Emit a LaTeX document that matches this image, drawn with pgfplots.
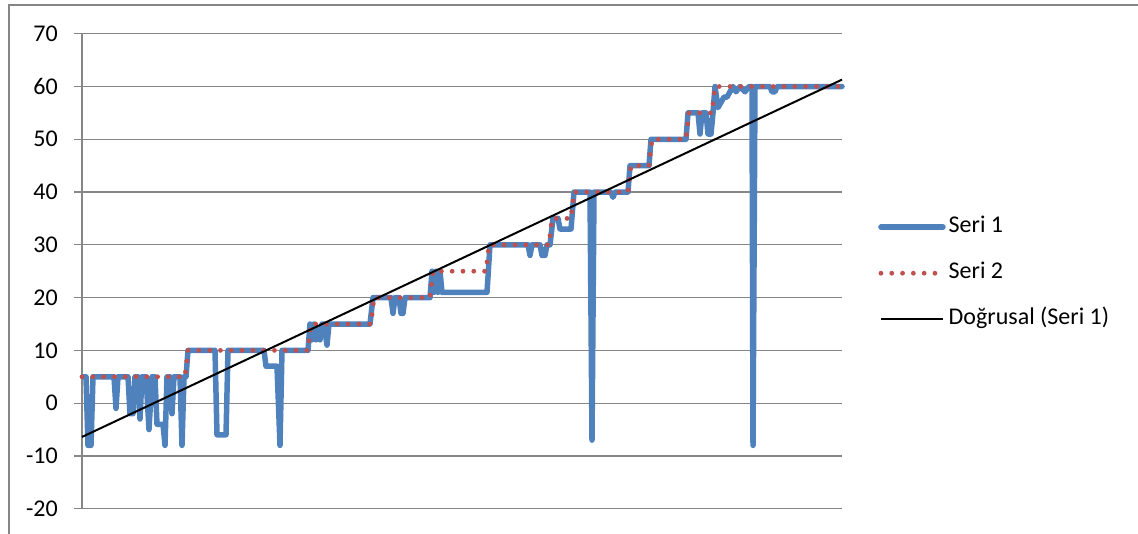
\documentclass[border=0pt]{standalone}
\usepackage{pgfplots}
\pgfplotsset{compat=1.18}
\usepackage{fontspec}
\setmainfont{Carlito}
\definecolor{serione}{RGB}{79,129,189}
\definecolor{seritwo}{RGB}{192,80,77}
\definecolor{gridgray}{RGB}{134,134,134}

% Seri 1: measured values (x = sample index)
\pgfplotstableread{
x y
1 5
4 5
6 -8
9 -8
11 5
32 5
34 -1
36 5
46 5
48 -2
51 -2
53 5
56 5
58 -3
60 5
64 5
67 -5
70 5
73 5
75 -4
81 -4
83 -8
85 5
88 5
90 -2
92 5
98 5
100 -8
102 5
104 5
106 10
133 10
135 -6
144 -6
146 10
182 10
184 7
195 7
198 -8
200 10
226 10
228 15
230 12
232 15
234 12
236 14
238 12
240 15
242 15
245 11
247 15
288 15
291 20
309 20
311 17
313 20
317 20
319 17
321 17
323 20
348 20
350 25
352 21
354 25
356 21
358 25
360 21
405 21
408 30
446 30
448 28
450 30
458 30
460 28
463 28
465 30
468 30
471 35
476 35
478 33
489 33
492 40
508 40
510 -7
512 40
529 40
531 39
533 40
546 40
548 45
567 45
569 50
604 50
606 55
616 55
618 51
620 55
624 55
626 51
629 51
631 55
633 60
636 56
639 57
642 58
645 58
648 59
651 60
654 59
658 60
663 59
667 60
670 60
671 -8
673 60
688 60
690 59
693 59
695 60
760 60
}\seribir

% Seri 2: target levels
\pgfplotstableread{
x y
0 5
103 5
106 10
226 10
229 15
289 15
292 20
348 20
351 25
404 25
407 30
467 30
470 35
489 35
492 40
546 40
549 45
567 45
570 50
604 50
607 55
630 55
633 60
760 60
}\seriiki

% Linear trend of Seri 1
\pgfplotstableread{
x y
0 -6.4
760 61.3
}\trend

\begin{document}
\fontsize{24}{28}\selectfont
\begin{tikzpicture}[x=1pt,y=1pt]
\useasboundingbox (0,0) rectangle (1138,533);
% chart area border
\draw[gridgray, line width=1.3pt] (9,-20) -- (9,528) -- (1160,528);
\begin{axis}[
  at={(82,46)}, anchor=south west,
  scale only axis, width=760pt, height=475pt,
  xmin=0, xmax=760, ymin=-20, ymax=70,
  axis x line*=bottom, axis y line*=left,
  axis line style={gridgray, line width=1.3pt, -},
  xtick=\empty,
  ytick={-20,-10,0,10,20,30,40,50,60,70},
  yticklabels={-20,-10,0,10,20,30,40,50,60,70},
  ymajorgrids, grid style={gridgray, line width=1.3pt},
  tick align=outside, major tick length=8pt,
  tick style={gridgray, line width=1.3pt},
  yticklabel style={font=\fontsize{24}{28}\selectfont, text=black, inner sep=0pt, xshift=-16pt},
  clip=false,
  legend style={at={(1,0.5)}, anchor=west, xshift=36pt, yshift=-2pt, draw=none, fill=none,
    inner sep=0pt, row sep=21pt,
    font=\fontsize{24}{28}\selectfont,
    nodes={inner sep=3pt, text height=15pt, text depth=4pt}},
  legend cell align=left,
  legend image code/.code={\draw[#1] (0pt,0pt) -- (62pt,0pt);},
]
\addplot[serione, line width=5.5pt, line cap=round, line join=round] table {\seribir};
\addlegendentry{Seri 1}
\addplot[seritwo, line width=4.8pt, line cap=round, dash pattern=on 0pt off 10.8pt] table {\seriiki};
\addlegendentry{Seri 2}
\addplot[black, line width=2pt] table {\trend};
\addlegendentry{Doğrusal (Seri 1)}
\end{axis}
\end{tikzpicture}
\end{document}
